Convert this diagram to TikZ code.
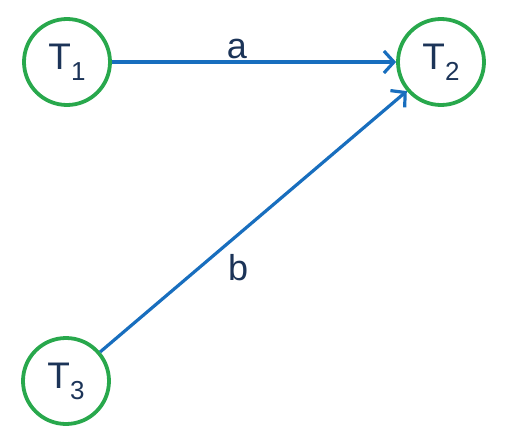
\documentclass[tikz,border=0pt]{standalone}
\usepackage{fontspec}
\setmainfont{Liberation Sans}
\usetikzlibrary{arrows.meta}
\definecolor{tgreen}{RGB}{40,168,76}
\definecolor{tblue}{RGB}{24,110,190}
\definecolor{tnavy}{RGB}{28,52,88}
\newcommand{\tsub}[1]{\raisebox{-0.3em}{\fontsize{26}{28}\selectfont #1}}
\tikzset{
	state/.style={circle, draw=tgreen, line width=3.8pt, minimum size=86pt, inner sep=0pt, text=tnavy, font=\fontsize{37}{40}\selectfont},
	link/.style={draw=tblue, line width=3.2pt, -{Straight Barb[length=10pt, width=22pt, line width=3.2pt]}},
	lab/.style={text=tnavy, font=\fontsize{36}{40}\selectfont}
}
\begin{document}
\begin{tikzpicture}[x=1pt, y=-1pt]
		%%%%% START %%%%%
		
		\useasboundingbox (0, 0) rectangle (506, 436);
		
		\node[state] (t1) at (67, 62) {T\tsub{1}};
		\node[state] (t2) at (441, 62) {T\tsub{2}};
		\node[state] (t3) at (66, 381) {T\tsub{3}};
		
		\draw[link] (t1) -- node[lab, pos=0.44, above=-2pt] (la) {a} (t2);
		\draw[link] (t3) -- node[lab, pos=0.45, below=15pt] (lb) {b} (t2);
		
		%%%%% END %%%%%
\end{tikzpicture}
\end{document}
